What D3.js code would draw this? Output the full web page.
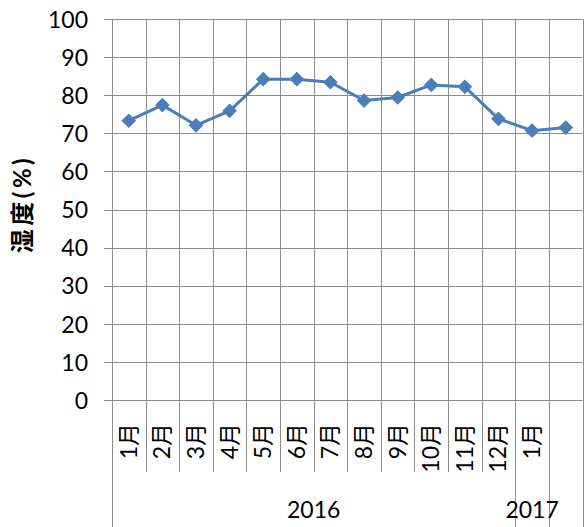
<!DOCTYPE html>
<html>
<head>
<meta charset="utf-8">
<script src="https://cdn.jsdelivr.net/npm/d3@7"></script>
<style>
  body { margin: 0; background: #fff; }
  svg text { font-family: Lato, "Noto Sans CJK SC", sans-serif; fill: #000; }
</style>
</head>
<body>
<svg id="chart" width="587" height="527"></svg>
<script>
// category labels (month, year group) and humidity values
var months = ["1月", "2月", "3月", "4月", "5月", "6月", "7月", "8月", "9月", "10月", "11月", "12月", "1月", ""];
var years = ["2016", "2016", "2016", "2016", "2016", "2016", "2016", "2016", "2016", "2016", "2016", "2016", "2017", ""];
var humidity = [73.3, 77.4, 72.1, 75.9, 84.2, 84.2, 83.4, 78.6, 79.4, 82.7, 82.2, 73.8, 70.7, 71.5];
var yTicks = [0, 10, 20, 30, 40, 50, 60, 70, 80, 90, 100];
var yTitle = "湿度(%)";

var svg = d3.select("#chart");
var plot = { left: 112, right: 582.5, top: 19, bottom: 400 };
var gridColor = "#8c8c8c";

var x = d3.scaleBand()
          .domain(d3.range(months.length))
          .range([plot.left, plot.right]);

var y = d3.scaleLinear()
          .domain([0, 100])
          .range([plot.bottom, plot.top]);

// horizontal gridlines
svg.append("g")
    .selectAll("line")
    .data(yTicks)
    .enter()
    .append("line")
      .attr("x1", plot.left - 8)
      .attr("x2", plot.right)
      .attr("y1", d => Math.round(y(d)) + 0.5)
      .attr("y2", d => Math.round(y(d)) + 0.5)
      .attr("stroke", gridColor);

// vertical gridlines at category boundaries, continuing below as dividers
var bounds = d3.range(months.length + 1);
svg.append("g")
    .selectAll("line")
    .data(bounds)
    .enter()
    .append("line")
      .attr("x1", d => Math.round(plot.left + d * x.bandwidth()) + 0.5)
      .attr("x2", d => Math.round(plot.left + d * x.bandwidth()) + 0.5)
      .attr("y1", plot.top)
      .attr("y2", d => {
        var yearEdge = d === 0 || d === months.length || years[d] !== years[d - 1];
        return yearEdge ? 527 : 472;
      })
      .attr("stroke", gridColor);

// y axis labels
var yAxis = d3.axisLeft(y)
              .tickValues(yTicks)
              .tickSize(0)
              .tickPadding(24);

svg.append("g")
    .attr("transform", "translate(" + plot.left + ",0)")
    .call(yAxis)
    .call(g => g.select(".domain").remove())
    .selectAll("text")
      .style("font-size", "23px")
      .attr("dy", "0.36em");

// y axis title
svg.append("text")
    .attr("transform", "translate(31,204) rotate(-90)")
    .style("text-anchor", "middle")
    .style("font-size", "24px")
    .style("font-weight", "bold")
    .style("letter-spacing", "3.5px")
    .text(yTitle);

// month labels, rotated
svg.append("g")
    .selectAll("text")
    .data(months)
    .enter()
    .append("text")
      .attr("transform", (d, i) => "translate(" + (x(i) + x.bandwidth() / 2 + 8) + ",423) rotate(-90)")
      .style("text-anchor", "end")
      .style("font-size", "23px")
      .text(d => d);

// year group labels
var groups = [];
years.forEach(function(yr, i) {
  if (!groups.length || groups[groups.length - 1].label !== yr) {
    groups.push({ label: yr, start: i, count: 0 });
  }
  groups[groups.length - 1].count += 1;
});

svg.append("g")
    .selectAll("text")
    .data(groups)
    .enter()
    .append("text")
      .attr("x", d => x(d.start) + d.count * x.bandwidth() / 2)
      .attr("y", 518)
      .style("text-anchor", "middle")
      .style("font-size", "23px")
      .text(d => d.label);

// series line
var line = d3.line()
             .x((d, i) => x(i) + x.bandwidth() / 2)
             .y(d => y(d));

svg.append("path")
    .datum(humidity)
    .attr("d", line)
    .attr("fill", "none")
    .attr("stroke", "#4a7ebb")
    .attr("stroke-width", 3)
    .attr("stroke-linejoin", "round");

// diamond markers
var diamond = d3.symbol().type(d3.symbolSquare).size(88);

svg.append("g")
    .selectAll("path")
    .data(humidity)
    .enter()
    .append("path")
      .attr("d", diamond)
      .attr("transform", (d, i) => "translate(" + (x(i) + x.bandwidth() / 2) + "," + y(d) + ") rotate(45)")
      .attr("fill", "#4a7ebb")
      .attr("stroke", "#4a7ebb")
      .attr("stroke-width", 1);
</script>
</body>
</html>
